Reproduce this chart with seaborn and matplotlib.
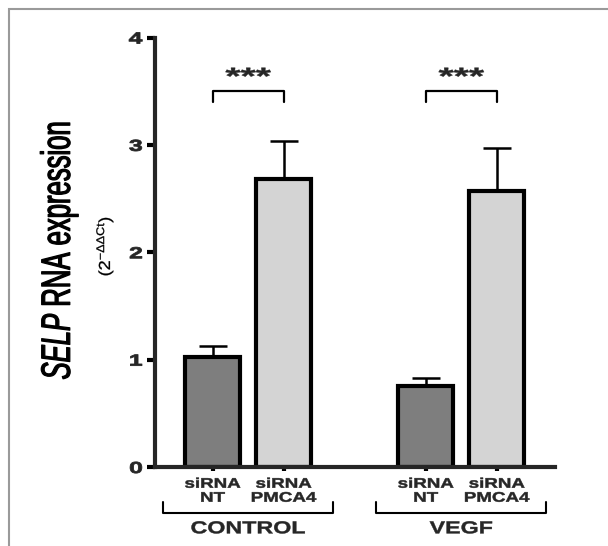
import matplotlib
matplotlib.use("Agg")
import matplotlib.pyplot as plt
from matplotlib.patches import Rectangle
from matplotlib.patheffects import AbstractPathEffect
from matplotlib.transforms import Affine2D
import numpy as np
import pandas as pd
import seaborn as sns

# Expression data (mean and upper SEM)
groups = ["CONTROL", "CONTROL", "VEGF", "VEGF"]
conditions = ["siRNA\nNT", "siRNA\nPMCA4", "siRNA\nNT", "siRNA\nPMCA4"]
expression = [1.02, 2.68, 0.75, 2.57]
sem = [0.11, 0.36, 0.08, 0.40]
group_names = ["CONTROL", "VEGF"]
significance = ["***", "***"]
y_ticks = [0, 1, 2, 3, 4]


class Stretch(AbstractPathEffect):
    """Scale glyph outlines along (sx) and across (sy) the baseline,
    optionally thickening them with an outline of width lw."""

    def __init__(self, sx=1.0, sy=1.0, anchor="center", lw=0.0):
        super().__init__()
        self.sx, self.sy, self.anchor, self.lw = sx, sy, anchor, lw

    def draw_path(self, renderer, gc, tpath, affine, rgbFace=None):
        ext = tpath.get_extents()
        ax0 = {"center": (ext.x0 + ext.x1) / 2, "right": ext.x1,
               "left": ext.x0}[self.anchor]
        t = (Affine2D().translate(-ax0, 0).scale(self.sx, self.sy)
             .translate(ax0, 0) + affine)
        gc0 = renderer.new_gc()
        gc0.copy_properties(gc)
        if self.lw > 0:
            gc0.set_linewidth(self.lw)
            gc0.set_foreground(rgbFace)
            gc0.set_joinstyle("round")
        renderer.draw_path(gc0, tpath, t, rgbFace)
        gc0.restore()


sns.set_theme(style="ticks")
plt.rcParams["font.family"] = ["Liberation Sans", "DejaVu Sans"]
plt.rcParams["mathtext.fontset"] = "custom"
plt.rcParams["mathtext.rm"] = "Liberation Sans"
plt.rcParams["mathtext.it"] = "Liberation Sans:italic"

df = pd.DataFrame({"group": groups, "condition": conditions,
                   "value": expression, "sem": sem})
# two bars per group, one empty slot between groups
gidx = df["group"].map({g: i for i, g in enumerate(group_names)})
cidx = df.groupby("group").cumcount()
df["pos"] = gidx * 3 + cidx

fig = plt.figure(figsize=(6.08, 5.46), dpi=100)
ax = fig.add_axes([155 / 608, 1 - 467 / 546, (555 - 155) / 608,
                   (467 - 37.5) / 546])

palette = {"siRNA\nNT": "#7e7e7e", "siRNA\nPMCA4": "#d4d4d4"}
ax.errorbar(df["pos"], df["value"], yerr=[np.zeros(len(df)), df["sem"]],
            fmt="none", ecolor="black", elinewidth=1.8, capsize=10,
            capthick=1.8, zorder=1)
sns.barplot(data=df, x="pos", y="value", hue="condition", palette=palette,
            native_scale=True, dodge=False, width=0.77, errorbar=None,
            edgecolor="black", linewidth=3, legend=False, ax=ax, zorder=2)

ax.set_xlim(-0.81, 4.82)
ax.set_ylim(0, 4)
ax.set_yticks(y_ticks)
ax.set_yticklabels([str(t) for t in y_ticks], fontsize=11.5,
                   fontweight="bold")
ax.set_xticks(df["pos"])
ax.set_xticklabels(df["condition"], fontsize=10, fontweight="bold",
                   linespacing=1.0)
for lab in ax.get_yticklabels():
    lab.set_path_effects([Stretch(sx=1.55, anchor="right", lw=0.6)])
for lab in ax.get_xticklabels():
    lab.set_path_effects([Stretch(sx=1.35, lw=0.35)])
ax.set_xlabel("")
ax.set_ylabel("")
sns.despine(ax=ax)
for s in ("left", "bottom"):
    ax.spines[s].set_linewidth(3)
ax.tick_params(axis="y", length=6, width=3, pad=3, color="black")
ax.tick_params(axis="x", length=3, width=3, pad=4, color="black")

# axis title
fig.text(70 / 608, 1 - 250.5 / 546, r"$\mathit{SELP}$ RNA expression",
         rotation=90, rotation_mode="anchor", ha="center", va="baseline",
         fontsize=21, color="black",
         path_effects=[Stretch(sx=0.88, sy=1.40, lw=0.9)])
fig.text(110 / 608, 1 - 246 / 546, r"(2$^{\mathregular{-ΔΔCt}}$)",
         rotation=90, rotation_mode="anchor", ha="center", va="baseline",
         fontsize=10, color="black",
         path_effects=[Stretch(sx=1.3, sy=1.15, lw=0.2)])

# significance brackets
tr = ax.get_xaxis_transform()
for g, star in enumerate(significance):
    sub = df[gidx == g]
    x0, x1 = sub["pos"].min(), sub["pos"].max()
    ax.plot([x0, x0, x1, x1], [3.40, 3.50, 3.50, 3.40], color="black",
            lw=1.6, clip_on=False)
    ax.text((x0 + x1) / 2, 3.52, star, ha="center", va="bottom",
            fontsize=17, fontweight="bold",
            path_effects=[Stretch(sx=1.65, lw=0.3)])
    # group brackets below the axis
    c = (x0 + x1) / 2
    ax.plot([c - 1.2, c - 1.2, c + 1.2, c + 1.2],
            [-0.0815, -0.107, -0.107, -0.0815], color="black", lw=1.5,
            transform=tr, clip_on=False)
    ax.text(c, -0.144, group_names[g], transform=tr, ha="center",
            va="center", fontsize=12.5, fontweight="bold",
            path_effects=[Stretch(sx=1.34, lw=0.3)])

fig.add_artist(Rectangle((9 / 608, -1), 2, 1 + (1 - 9 / 546),
                         transform=fig.transFigure, fill=False,
                         edgecolor="#9a9a9a", lw=1.5))

fig.savefig("out.png", dpi=100)
